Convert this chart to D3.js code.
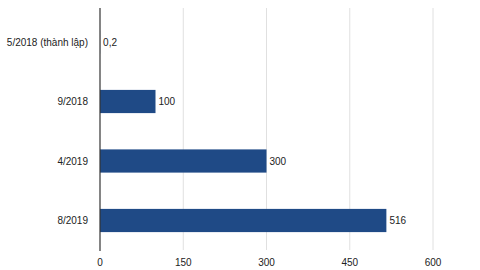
<!DOCTYPE html>
<html><head><meta charset="utf-8">
<script src="https://cdn.jsdelivr.net/npm/d3@7"></script>
<style>body{margin:0;background:#fff;}svg{display:block;font-family:"Liberation Sans",Arial,Helvetica,sans-serif;}</style>
</head><body>
<svg id="c" width="480" height="270"></svg>
<script>
const categories = ["5/2018 (thành lập)", "9/2018", "4/2019", "8/2019"];
const values = [0.2, 100, 300, 516];
const valueLabels = ["0,2", "100", "300", "516"];
const ticks = [0, 150, 300, 450, 600];

const svg = d3.select("#c");
const x = d3.scaleLinear().domain([0, 600]).range([100, 433]);
const y = d3.scaleBand().domain(categories).range([12.25, 250.25]).paddingInner(0.61).paddingOuter(0.305);

// gridlines
svg.append("g").selectAll("line").data(ticks.filter(t => t > 0)).join("line")
  .attr("x1", d => x(d)).attr("x2", d => x(d))
  .attr("y1", 8).attr("y2", 250)
  .attr("stroke", "#e0e0e0").attr("stroke-width", 1);

// bars
svg.append("g").selectAll("rect").data(values).join("rect")
  .attr("x", x(0))
  .attr("y", (d, i) => y(categories[i]))
  .attr("width", d => x(d) - x(0))
  .attr("height", y.bandwidth())
  .attr("fill", "#1f4a86");

// axis line
svg.append("line").attr("x1", x(0)).attr("x2", x(0)).attr("y1", 8).attr("y2", 251)
  .attr("stroke", "#333").attr("stroke-width", 1.2);

// value labels
svg.append("g").selectAll("text").data(values).join("text")
  .attr("x", d => x(d) + 3)
  .attr("y", (d, i) => y(categories[i]) + y.bandwidth() / 2)
  .attr("dy", "0.35em")
  .attr("font-size", 10).attr("fill", "#222")
  .text((d, i) => valueLabels[i]);

// category labels
svg.append("g").selectAll("text").data(categories).join("text")
  .attr("x", 88)
  .attr("y", d => y(d) + y.bandwidth() / 2)
  .attr("dy", "0.35em")
  .attr("text-anchor", "end")
  .attr("font-size", 10).attr("fill", "#222")
  .text(d => d);

// x tick labels
svg.append("g").selectAll("text").data(ticks).join("text")
  .attr("x", d => x(d))
  .attr("y", 262)
  .attr("dy", "0.35em")
  .attr("text-anchor", "middle")
  .attr("font-size", 10).attr("fill", "#222")
  .text(d => d);
</script>
</body></html>
